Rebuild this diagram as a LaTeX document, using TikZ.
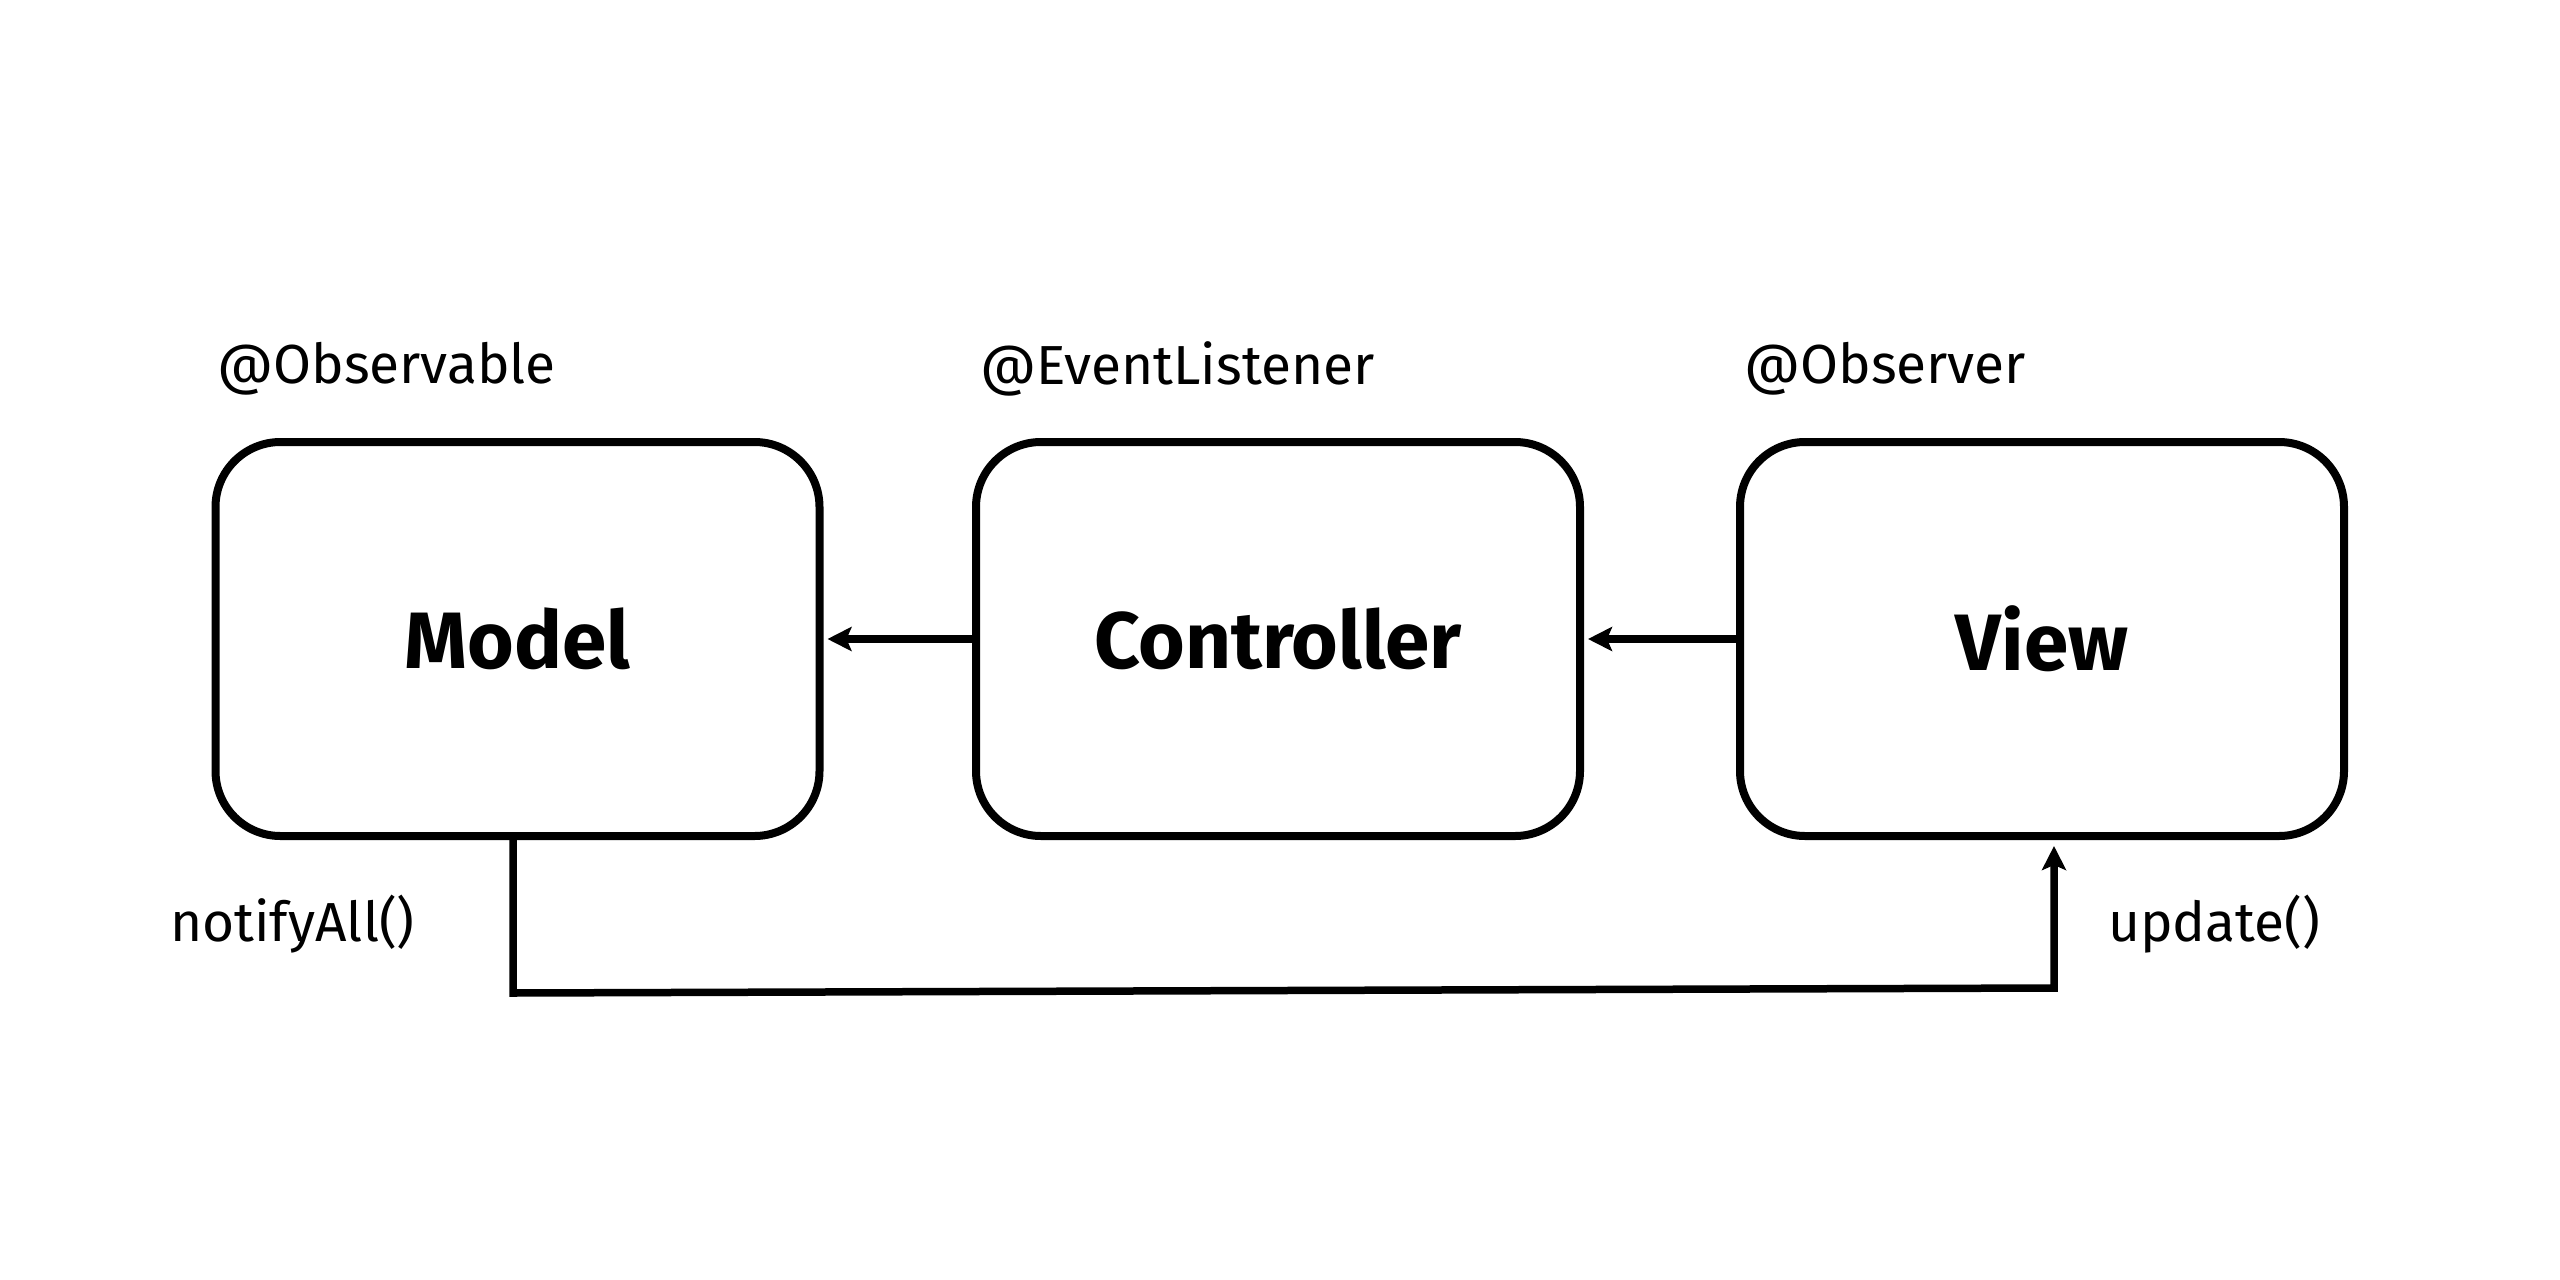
\documentclass[tikz,border=0pt]{standalone}
\usepackage{fontspec}
\setmainfont{Fira Sans}
\usetikzlibrary{arrows.meta}
\tikzset{
  box/.style={draw, line width=8pt, rounded corners=65pt, minimum width=604pt, minimum height=394pt, inner sep=0pt, font=\fontsize{80}{92}\selectfont\bfseries},
  lbl/.style={anchor=west, inner sep=0pt, font=\fontsize{55}{66}\selectfont},
  conn/.style={line width=7.5pt, line join=miter, -{Stealth[length=24pt,width=24pt,inset=5pt]}, shorten >=4pt}
}
\begin{document}
\begin{tikzpicture}[x=1pt,y=-1pt]
\useasboundingbox (0,0) rectangle (2560,1280);
\fill[white] (0,0) rectangle (2560,1280);
\node[box] (model) at (517.5,639) {Model};
\node[box] (ctrl) at (1278,639) {Controller};
\node[box] (view) at (2042,639) {View};
\node[lbl] (lobs) at (217,369) {@Observable};
\node[lbl] (lev) at (980,369) {@EventListener};
\node[lbl] (lobr) at (1744,369) {@Observer};
\node[lbl] (lnot) at (170,924) {notifyAll()};
\node[lbl] (lupd) at (2108,924) {update()};
\draw[conn] (ctrl.west) -- (model.east);
\draw[conn] (view.west) -- (ctrl.east);
\coordinate (a) at (513,993);
\coordinate (b) at (2054,988);
\draw[conn, shorten >=6pt] ([xshift=-4.5pt,yshift=6pt]model.south) -- (a) -- (b) -- ([xshift=12pt]view.south);
\end{tikzpicture}
\end{document}
